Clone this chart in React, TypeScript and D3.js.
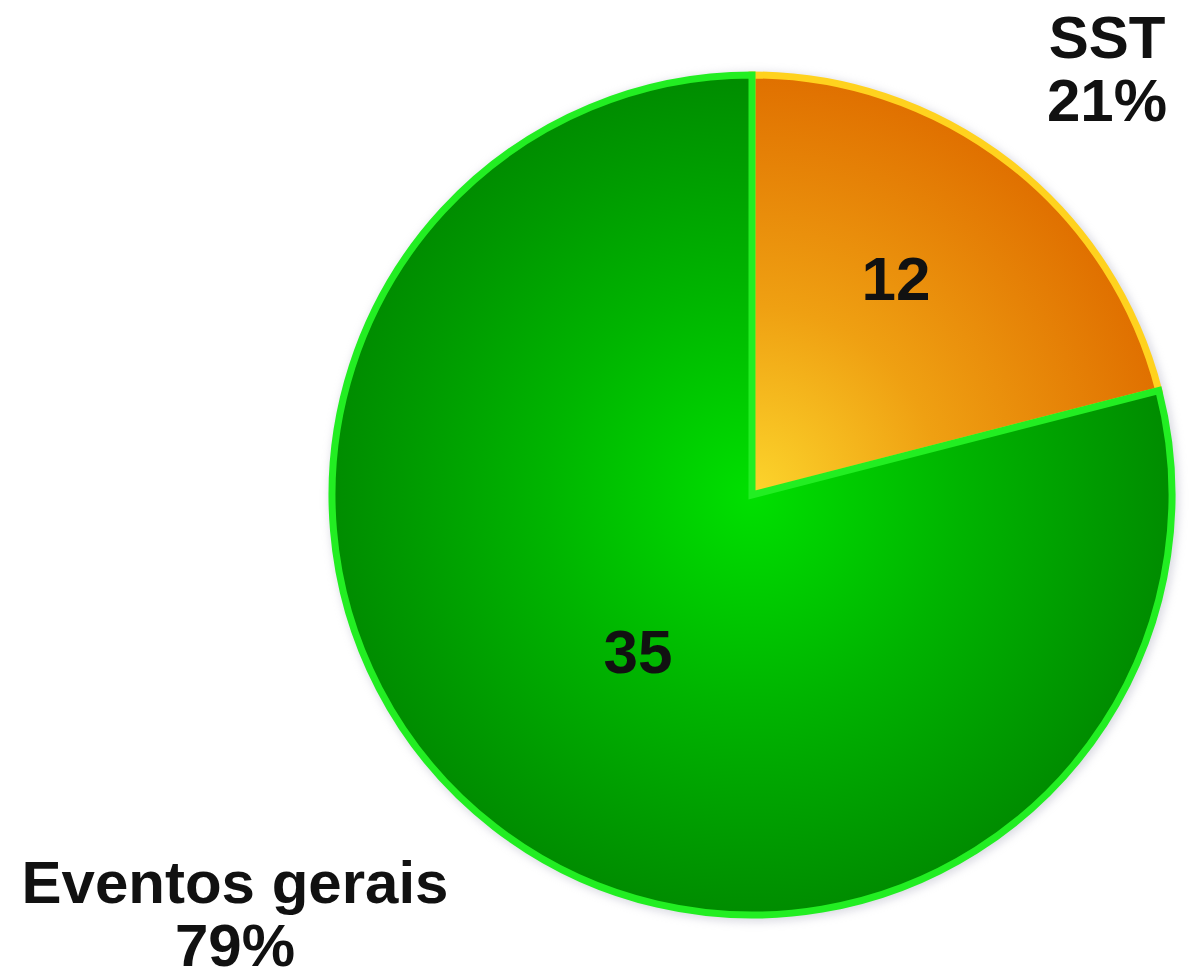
import React from "react";
import * as d3 from "d3";

const categories = ["SST", "Eventos gerais"];
const counts = [12, 35];
const percents = [21, 79];

const W = 1192;
const H = 980;
const cx = 752;
const cy = 495;
const R = 420;

const fillIds = ["gradOrange", "gradGreen"];
const strokeColors = ["#ffd21e", "#22ee22"];

export default function App() {
  const pie = d3
    .pie<number>()
    .sort(null)
    .value((d) => d);
  const arcs = pie(percents);
  const arcGen = d3.arc<d3.PieArcDatum<number>>().innerRadius(0).outerRadius(R);

  const countPos = [
    [896, 300],
    [638, 673],
  ];
  const labelPos = [
    { x: 1107, y: 58 },
    { x: 235, y: 903 },
  ];

  const order = [0, 1];

  return (
    <svg
      width={W}
      height={H}
      style={{ position: "absolute", left: 0, top: 0, background: "#fff" }}
      fontFamily="'Liberation Sans', Arial, sans-serif"
    >
      <defs>
        <radialGradient id="gradGreen" gradientUnits="userSpaceOnUse" cx={0} cy={0} r={R}>
          <stop offset="0%" stopColor="#00e000" />
          <stop offset="50%" stopColor="#00b400" />
          <stop offset="100%" stopColor="#008c00" />
        </radialGradient>
        <radialGradient id="gradOrange" gradientUnits="userSpaceOnUse" cx={0} cy={0} r={R}>
          <stop offset="0%" stopColor="#fcd52c" />
          <stop offset="45%" stopColor="#efa012" />
          <stop offset="100%" stopColor="#e07000" />
        </radialGradient>
        <filter id="shadow" x="-10%" y="-10%" width="120%" height="120%">
          <feGaussianBlur stdDeviation="4" />
        </filter>
      </defs>
      <circle cx={cx + 2} cy={cy + 2} r={R + 5} fill="#b8b8c8" opacity={0.5} filter="url(#shadow)" />
      <g transform={`translate(${cx},${cy})`}>
        {order.map((i) => (
          <path
            key={categories[i]}
            d={arcGen(arcs[i]) || ""}
            fill={`url(#${fillIds[i]})`}
            stroke={strokeColors[i]}
            strokeWidth={7}
            strokeLinejoin="miter"
          />
        ))}
      </g>
      {counts.map((c, i) => (
        <text
          key={"c" + i}
          x={countPos[i][0]}
          y={countPos[i][1]}
          textAnchor="middle"
          fontWeight="bold"
          fontSize={62}
          fill="#111"
        >
          {c}
        </text>
      ))}
      {categories.map((c, i) => (
        <text
          key={"l" + i}
          textAnchor="middle"
          fontWeight="bold"
          fontSize={60}
          fill="#111"
        >
          <tspan x={labelPos[i].x} y={labelPos[i].y}>
            {c}
          </tspan>
          <tspan x={labelPos[i].x} y={labelPos[i].y + 63}>
            {percents[i]}%
          </tspan>
        </text>
      ))}
    </svg>
  );
}
